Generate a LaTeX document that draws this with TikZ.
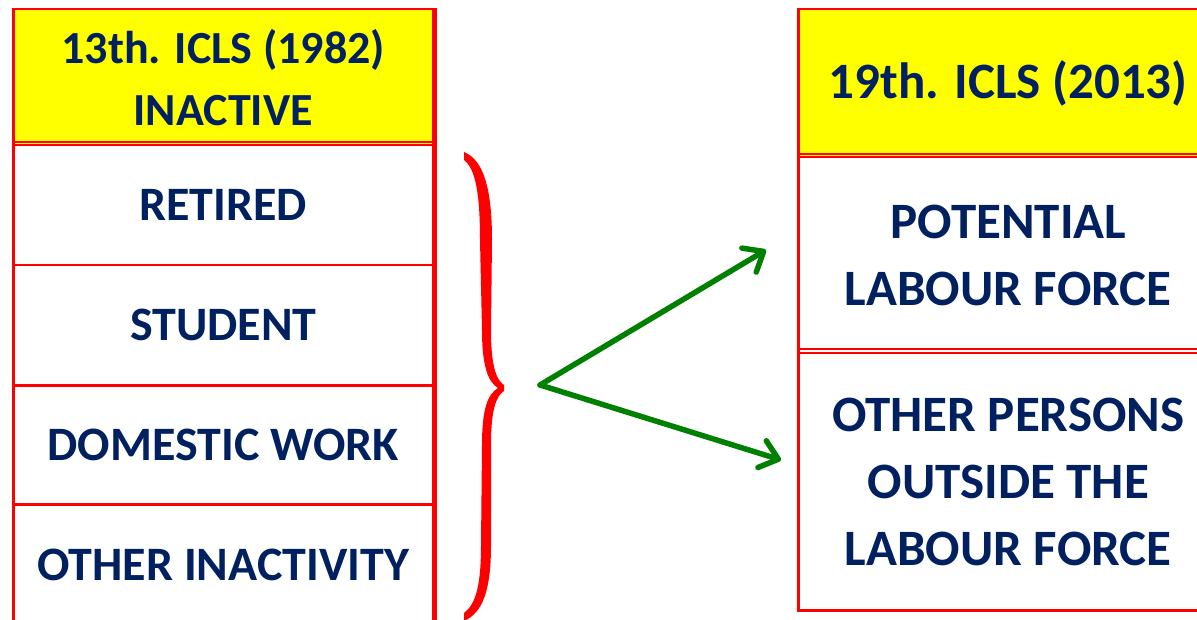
\documentclass[tikz,border=0pt]{standalone}
\usepackage{fontspec}
\setmainfont{Carlito}
\usetikzlibrary{arrows.meta}
\definecolor{navy}{RGB}{0,32,96}
\definecolor{hdr}{RGB}{255,255,0}
\definecolor{grn}{RGB}{0,128,0}
\begin{document}
\begin{tikzpicture}[x=1pt,y=-1pt,
  cell/.style={draw=red, line width=2.5pt, fill=white, anchor=north west, inner sep=0pt,
    text=navy, align=center, minimum width=420pt},
  lfont/.style={font=\fontsize{48}{62}\selectfont\bfseries},
  hfont/.style={font=\fontsize{46}{62}\selectfont\bfseries},
  rfont/.style={font=\fontsize{51}{67}\selectfont\bfseries},
  hcell/.style={cell, fill=hdr},
  sep/.style={draw=red, line width=2pt},
  arr/.style={draw=grn, line width=5.5pt, line cap=round, -{Straight Barb[length=17pt,width=28pt,round]}}]
\useasboundingbox (0,0) rectangle (1197,620);
\clip (0,0) rectangle (1197,620);
% left table
\node[hcell, hfont, minimum height=136pt] (lh) at (12,8) {13th. ICLS (1982)\\INACTIVE};
\draw[sep] ([yshift=4pt]lh.south west) -- ([yshift=4pt]lh.south east);
\node[cell, lfont, minimum height=120pt] (l1) at (12,144) {RETIRED};
\node[cell, lfont, minimum height=120pt] (l2) at (12,264) {STUDENT};
\node[cell, lfont, minimum height=119pt] (l3) at (12,384) {DOMESTIC WORK};
\node[cell, lfont, minimum height=122pt] (l4) at (12,503) {OTHER INACTIVITY};
\draw[red, line width=4pt] (lh.north east) -- (l4.south east);
% right table
\node[hcell, rfont, minimum height=148pt] (rh) at (797,8) {19th. ICLS (2013)};
\draw[sep] ([yshift=4pt]rh.south west) -- ([yshift=4pt]rh.south east);
\node[cell, rfont, minimum height=196pt] (r1) at (797,156) {POTENTIAL\\LABOUR FORCE};
\draw[sep] ([yshift=5pt]r1.south west) -- ([yshift=5pt]r1.south east);
\node[cell, rfont, minimum height=257pt] (r2) at (797,352) {OTHER PERSONS\\OUTSIDE THE\\LABOUR FORCE};
% brace
\coordinate (tip) at (502,388);
\fill[red] (464,152) .. controls (484,160) and (492,190) .. (492,240)
  -- (491,330) .. controls (491,365) and (496,380) .. (504,385)
  -- (504,391) .. controls (496,396) and (491,410) .. (491,445)
  -- (491,545) .. controls (491,592) and (482,613) .. (464,621)
  -- (464,613) .. controls (476,604) and (481,585) .. (481,545)
  -- (482,445) .. controls (482,408) and (488,394) .. (498,388)
  .. controls (488,382) and (482,366) .. (482,330)
  -- (480,240) .. controls (480,196) and (476,169) .. (464,160) -- cycle;
% arrows
\coordinate (s) at (540,385);
\coordinate (e1) at (766,250);
\coordinate (e2) at (781,460);
\draw[arr] (s) -- (e1);
\draw[arr] (s) -- (e2);
\end{tikzpicture}
\end{document}
